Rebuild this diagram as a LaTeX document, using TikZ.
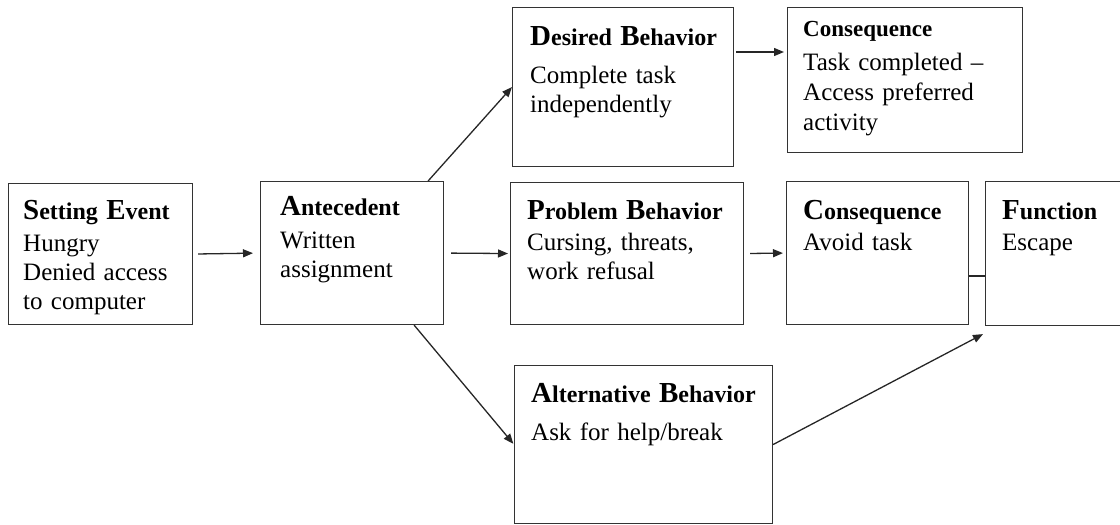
\documentclass[tikz,border=0pt]{standalone}
\usepackage{fontspec}
\setmainfont{Liberation Serif}
\usetikzlibrary{arrows.meta}

% heading word: big first letter, smaller rest
\newcommand\capword[2]{{\fontsize{29}{29}\selectfont #1}{\fontsize{24}{29}\selectfont #2}}

\tikzset{
  box/.style={draw=black!80, line width=1.1pt, anchor=north west, inner sep=0pt},
  txt/.style={anchor=base west, inner sep=0pt, text width=240pt, align=left,
    font=\fontsize{25}{29}\selectfont},
  arr/.style={-{Triangle[length=10pt,width=8pt]}, line width=1.3pt, black!85},
  link/.style={line width=1.3pt, black!85},
}

\begin{document}
\begin{tikzpicture}[x=1pt,y=-1pt]
  \clip (0,0) rectangle (1120,525);

  % the boxes
  \node[box, minimum width=184pt, minimum height=141pt] (set) at (8,183) {};
  \node[box, minimum width=183pt, minimum height=143pt] (ant) at (260,181) {};
  \node[box, minimum width=221pt, minimum height=159pt] (des) at (512,7) {};
  \node[box, minimum width=235pt, minimum height=145pt] (con1) at (787,7) {};
  \node[box, minimum width=233pt, minimum height=142pt] (prob) at (510,182) {};
  \node[box, minimum width=182pt, minimum height=143pt] (con2) at (786,181) {};
  \node[box, minimum width=150pt, minimum height=144pt] (fun) at (985,181) {};
  \node[box, minimum width=258pt, minimum height=158pt] (alt) at (514,365) {};

  % box texts
  \node[txt] (setT) at ([shift={(15,36)}]set.north west)
    {{\bfseries\capword{S}{etting} \capword{E}{vent}}\\[3pt] Hungry\\ Denied access\\ to computer};
  \node[txt] (antT) at ([shift={(20,34)}]ant.north west)
    {{\bfseries\capword{A}{ntecedent}}\\[4pt] Written\\ assignment};
  \node[txt] (desT) at ([shift={(18,38)}]des.north west)
    {{\bfseries\capword{D}{esired} \capword{B}{ehavior}}\\[9pt] Complete task\\ independently};
  \node[txt] (con1T) at ([shift={(16,29)}]con1.north west)
    {{\bfseries\fontsize{23}{29}\selectfont Consequence}\\[5pt] Task completed --\\[1pt] Access preferred\\[1pt] activity};
  \node[txt] (probT) at ([shift={(17,37)}]prob.north west)
    {{\bfseries\capword{P}{roblem} \capword{B}{ehavior}}\\[2pt] Cursing, threats,\\ work refusal};
  \node[txt] (con2T) at ([shift={(17,38)}]con2.north west)
    {{\bfseries\capword{C}{onsequence}}\\[2pt] Avoid task};
  \node[txt] (funT) at ([shift={(17,38)}]fun.north west)
    {{\bfseries\capword{F}{unction}}\\[2pt] Escape};
  \node[txt] (altT) at ([shift={(17,37)}]alt.north west)
    {{\bfseries\capword{A}{lternative} \capword{B}{ehavior}}\\[9pt] Ask for help/break};

  % arrows
  \draw[arr, shorten <=5pt, shorten >=7pt] (set.east) -- (ant.west);
  \draw[arr, shorten <=7pt, shorten >=2pt] (ant.east) -- (prob.west);
  \draw[arr] ([xshift=-16pt]ant.north east) -- (des.west);
  \draw[arr, shorten >=1pt] ([xshift=-30pt]ant.south east) -- (alt.west);

  \coordinate (d1) at ([yshift=-45pt]des.north east);
  \draw[arr, shorten <=2pt, shorten >=3pt] (d1) -- (d1 -| con1.west);
  \draw[arr, shorten <=6pt, shorten >=3pt] (prob.east) -- (con2.west);

  \coordinate (c2) at ([yshift=-95pt]con2.north east);
  \draw[link] (c2) -- (c2 -| fun.west);
  \draw[arr] (alt.east) -- ([xshift=-2pt,yshift=-8pt]fun.south west);

\end{tikzpicture}
\end{document}
